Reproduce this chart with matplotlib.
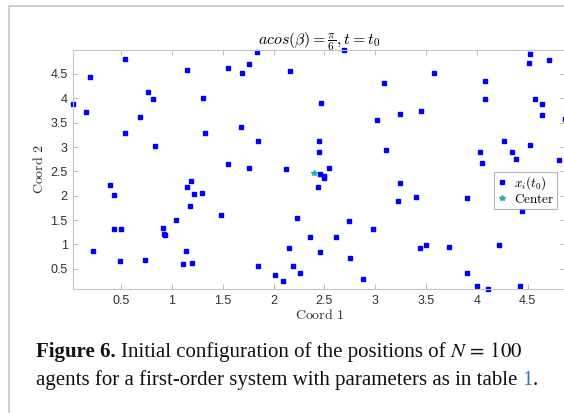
import matplotlib
matplotlib.use('Agg')
import matplotlib.pyplot as plt
from matplotlib.lines import Line2D

# agent positions at t0
x_pos = [0.028, 0.154, 0.193, 0.218, 0.394, 0.426, 0.426, 0.497, 0.486, 0.536,
         0.536, 0.686, 0.729, 0.761, 0.811, 0.833, 0.911, 0.922, 0.930, 1.040,
         1.109, 1.133, 1.144, 1.148, 1.176, 1.190, 1.200, 1.212, 1.290, 1.300,
         1.320, 1.484, 1.555, 1.555, 1.680, 1.690, 1.755, 1.755, 1.841, 1.845,
         1.848, 2.010, 2.088, 2.120, 2.148, 2.160, 2.190, 2.235, 2.256, 2.356,
         2.440, 2.448, 2.448, 2.456, 2.453, 2.470, 2.500, 2.500, 2.546, 2.610,
         2.690, 2.740, 2.750, 2.880, 2.975, 3.014, 3.090, 3.110, 3.220, 3.240,
         3.246, 3.400, 3.440, 3.450, 3.500, 3.580, 3.725, 3.900, 3.904, 4.007,
         4.030, 4.053, 4.085, 4.085, 4.107, 4.220, 4.265, 4.347, 4.383, 4.430,
         4.450, 4.515, 4.526, 4.526, 4.570, 4.645, 4.645, 4.715, 4.810, 4.870]
y_pos = [3.88, 3.72, 4.43, 0.86, 2.22, 2.01, 1.32, 1.32, 0.66, 4.81,
         3.28, 3.61, 0.69, 4.14, 3.98, 3.02, 1.33, 1.21, 1.19, 1.51,
         0.59, 0.86, 2.18, 4.58, 1.78, 2.30, 0.62, 2.03, 2.06, 4.01,
         3.28, 1.60, 4.63, 2.65, 3.41, 4.51, 4.70, 2.57, 4.95, 3.13,
         0.56, 0.38, 0.25, 2.55, 0.93, 4.56, 0.56, 1.54, 0.42, 1.16,
         2.18, 3.13, 2.90, 2.45, 0.84, 3.90, 2.40, 2.36, 2.56, 1.16,
         4.99, 1.49, 0.72, 0.30, 1.32, 3.56, 4.31, 2.94, 1.90, 2.26,
         3.67, 1.98, 0.93, 3.75, 0.99, 4.53, 0.95, 1.95, 0.41, 0.15,
         2.89, 2.67, 4.36, 3.98, 0.084, 0.98, 3.12, 2.90, 2.76, 0.15,
         1.68, 4.73, 4.91, 3.05, 3.99, 3.89, 3.66, 4.79, 2.74, 3.58]
center_x = [2.40]
center_y = [2.47]

tick_vals = [0.5, 1, 1.5, 2, 2.5, 3, 3.5, 4, 4.5]
tick_labels = ['0.5', '1', '1.5', '2', '2.5', '3', '3.5', '4', '4.5']

plt.rcParams['font.family'] = 'Liberation Sans'

fig = plt.figure(figsize=(5.64, 4.13), dpi=100)
ax = fig.add_axes([0.130, 0.300, 0.872, 0.5787])

ax.plot(x_pos, y_pos, 's', color='#0000ff', markersize=3.3, label=r'$x_i(t_0)$', clip_on=False)
ax.plot(center_x, center_y, '*', color='#22b2ac', markersize=4, label=r'$\mathrm{Center}$', clip_on=False)

ax.set_xlim(min(x_pos), max(x_pos))
ax.set_ylim(min(y_pos), max(y_pos))
ax.set_xticks(tick_vals)
ax.set_xticklabels(tick_labels)
ax.set_yticks(tick_vals)
ax.set_yticklabels(tick_labels)
ax.tick_params(direction='in', top=True, right=True, length=3.5, width=0.6,
               color='#b0b0b0', labelcolor='#303030', labelsize=9, pad=4)
for s in ax.spines.values():
    s.set_color('#c4c4c4')
    s.set_linewidth(0.8)

ax.set_title(r'$acos(\beta) = \frac{\pi}{6}, t = t_0$', fontsize=11.5, pad=4, math_fontfamily='cm')
ax.set_xlabel(r'$\mathrm{Coord\ 1}$', fontsize=10, labelpad=1, math_fontfamily='cm', color='#303030')
ax.set_ylabel(r'$\mathrm{Coord\ 2}$', fontsize=10, labelpad=3, math_fontfamily='cm', color='#303030')

leg = ax.legend(loc='upper left', bbox_to_anchor=(0.856, 0.49), fontsize=9.5,
                frameon=True, fancybox=False, handlelength=0.8, handletextpad=0.5,
                borderpad=0.2, labelspacing=0.05, borderaxespad=0)
leg.get_frame().set_edgecolor('#a0a0a0')
leg.get_frame().set_linewidth(0.8)
for t in leg.get_texts():
    t.set_math_fontfamily('cm')

# light grey page frame
fig.add_artist(Line2D([8.6 / 564, 8.6 / 564], [0, 1 - 6 / 413], transform=fig.transFigure,
                      color='#cfcfcf', lw=1.5))
fig.add_artist(Line2D([8.6 / 564, 1], [1 - 6 / 413, 1 - 6 / 413], transform=fig.transFigure,
                      color='#cfcfcf', lw=1.5))

# caption, built piece by piece
cap_font = 'Liberation Serif'
cap_size = 15
sp = 3.6  # word space in points
ink = '#111111'
p1 = fig.text(36 / 564, 51 / 413, 'Figure 6.', family=cap_font, fontsize=cap_size,
              weight='bold', va='bottom', color=ink)
p2 = ax.annotate('Initial configuration of the positions of', xy=(1, 0), xycoords=p1,
                 xytext=(sp, 0), textcoords='offset points', family=cap_font,
                 fontsize=cap_size, color=ink, va='bottom', ha='left', annotation_clip=False)
ax.annotate(r'$N\,=\,100$', xy=(1, 0), xycoords=p2, xytext=(sp, 0),
            textcoords='offset points', family=cap_font, math_fontfamily='stix',
            fontsize=cap_size, color=ink, va='bottom', ha='left', annotation_clip=False)

line2 = fig.text(36 / 564, 23 / 413,
                 'agents for a first-order system with parameters as in table',
                 family=cap_font, fontsize=cap_size, va='bottom', color=ink)
a1 = ax.annotate('1', xy=(1, 0), xycoords=line2, xytext=(sp, 0), textcoords='offset points',
                 family=cap_font, fontsize=cap_size, color='#2a7ab8', va='bottom', ha='left',
                 annotation_clip=False)
ax.annotate('.', xy=(1, 0), xycoords=a1, xytext=(0, 0), textcoords='offset points',
            family=cap_font, fontsize=cap_size, color=ink, va='bottom', ha='left',
            annotation_clip=False)

fig.savefig('out.png', dpi=100)
